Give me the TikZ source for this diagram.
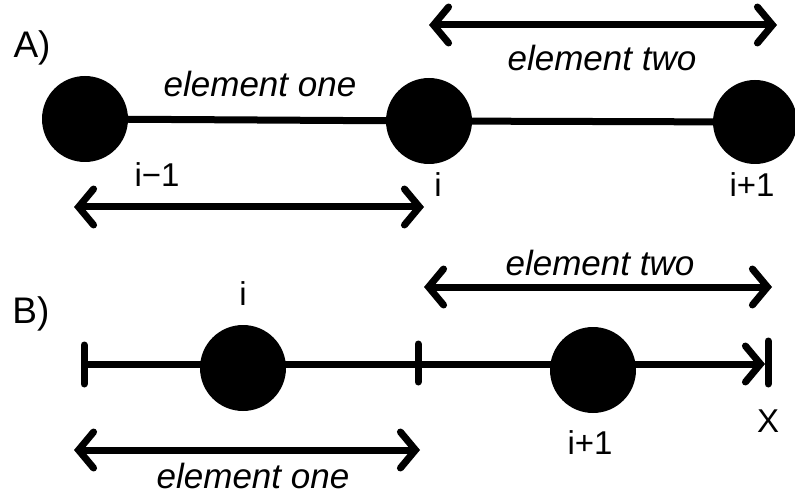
\documentclass[tikz,border=0pt]{standalone}
\usepackage{fontspec}
\setmainfont{Liberation Sans}
\usetikzlibrary{arrows.meta}
\tikzset{
  ball/.style={circle,fill=black,draw=none,minimum size=#1,inner sep=0pt},
  ball/.default=86pt,
  bar/.style={line width=7pt},
  tick/.style={line width=7pt,line cap=round},
  dim/.style={line width=7pt,{Straight Barb[length=15pt,width=36pt,line cap=round]}-{Straight Barb[length=15pt,width=36pt,line cap=round]}},
  endarr/.style={line width=7pt,-{Straight Barb[length=15pt,width=36pt,line cap=round]}},
  lab/.style={inner sep=0pt,font=\fontsize{33}{40}\selectfont},
  part/.style={inner sep=0pt,font=\fontsize{37}{44}\selectfont},
  elab/.style={inner sep=0pt,font=\fontsize{35}{42}\selectfont\itshape},
}
\begin{document}
\begin{tikzpicture}[x=1pt,y=-1pt]
\useasboundingbox (0,0) rectangle (795,497);
% ---------- A ----------
\node[part] (A) at (32,48) {A)};
\node[ball] (a1) at (85,119) {};
\node[ball] (a2) at (429,121) {};
\node[ball=84pt] (a3) at (755,122) {};
\draw[bar] (a1) -- (a2);
\draw[bar] (a2) -- (a3);
\node[elab] (eoneA) at (260,84) {element one};
\node[elab] (etwoA) at (602,58) {element two};
\node[lab] (lim1) at (157,175) {i−1};
\node[lab] (liA) at (438,185) {i};
\node[lab] (lip1A) at (752,185) {i+1};
\coordinate (a1L) at (74,207);
\coordinate (a1R) at (424,207);
\draw[dim] (a1L) -- (a1R);
\coordinate (a2L) at (429,25);
\coordinate (a2R) at (777,25);
\draw[dim] (a2L) -- (a2R);
% ---------- B ----------
\node[part] (B) at (31,314) {B)};
\coordinate (bL) at (84,364);
\coordinate (bM) at (418,364);
\coordinate (bR) at (768,364);
\draw[bar] (bL) -- (bM);
\draw[endarr] (bM) -- ([xshift=-3pt]bR);
\draw[tick] ([yshift=-20pt]bL) -- ([yshift=19pt]bL);
\draw[tick] ([yshift=-18pt]bM) -- ([yshift=20pt]bM);
\draw[tick] ([yshift=-20pt]bR) -- ([yshift=23pt]bR);
\node[ball] (b1) at (243,368) {};
\node[ball] (b2) at (593,370) {};
\node[lab] (liB) at (243,294) {i};
\node[lab] (lip1B) at (590,443) {i+1};
\node[lab] (X) at (768,421) {X};
\node[elab] (etwoB) at (600,263) {element two};
\node[elab] (eoneB) at (253,476) {element one};
\coordinate (b1L) at (74,450);
\coordinate (b1R) at (420,450);
\draw[dim] (b1L) -- (b1R);
\coordinate (b2L) at (424,287);
\coordinate (b2R) at (772,287);
\draw[dim] (b2L) -- (b2R);
\end{tikzpicture}
\end{document}
